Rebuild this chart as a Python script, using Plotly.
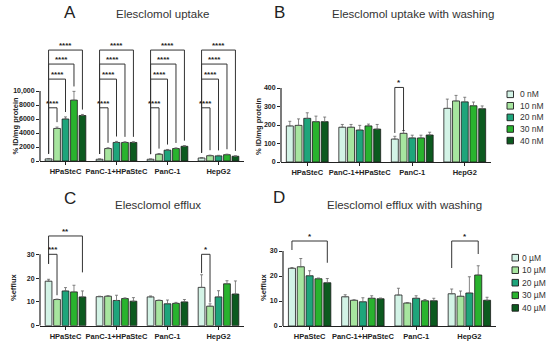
import plotly.graph_objects as go

W, H = 550, 344
FONT = "Liberation Sans, Arial, sans-serif"

groups = ["HPaSteC", "PanC-1+HPaSteC", "PanC-1", "HepG2"]
doses_nM = ["0 nM", "10 nM", "20 nM", "30 nM", "40 nM"]
doses_uM = ["0 \u00b5M", "10 \u00b5M", "20 \u00b5M", "30 \u00b5M", "40 \u00b5M"]
colors = ["#d3f3e6", "#a7e59f", "#1ea57b", "#29b32e", "#0c5a1f"]

# Panel A: Elesclomol uptake (% ID/mg protein), rows = dose, cols = group
uptake_mean = [
    [300, 250, 250, 430],
    [4650, 1780, 970, 760],
    [6000, 2650, 1550, 730],
    [8700, 2650, 1780, 900],
    [6500, 2650, 2100, 680],
]
uptake_err = [
    [60, 50, 40, 60],
    [200, 120, 100, 80],
    [300, 150, 100, 80],
    [1250, 100, 100, 80],
    [150, 100, 100, 60],
]
# Panel B: uptake with washing
uptake_wash_mean = [
    [195, 188, 124, 290],
    [198, 188, 155, 330],
    [236, 173, 130, 325],
    [218, 195, 130, 304],
    [218, 178, 146, 288],
]
uptake_wash_err = [
    [25, 15, 15, 50],
    [35, 15, 15, 30],
    [30, 25, 15, 25],
    [30, 10, 15, 20],
    [25, 25, 15, 15],
]
# Panel C: efflux (%)
efflux_mean = [
    [18.7, 12.2, 12.1, 16.1],
    [11.0, 12.4, 10.6, 8.2],
    [14.6, 10.6, 9.2, 12.1],
    [14.2, 11.4, 9.4, 17.6],
    [12.1, 10.3, 10.0, 13.3],
]
efflux_err = [
    [0.8, 0.2, 0.4, 5.3],
    [0.2, 0.2, 0.2, 1.0],
    [1.4, 2.2, 1.6, 2.6],
    [2.8, 0.3, 0.4, 1.3],
    [2.5, 1.5, 1.0, 5.5],
]
# Panel D: efflux with washing
efflux_wash_mean = [
    [23.1, 11.7, 12.4, 12.9],
    [23.7, 10.3, 9.2, 11.9],
    [20.1, 9.7, 11.1, 13.2],
    [18.9, 11.1, 10.1, 20.4],
    [17.3, 10.9, 10.1, 10.3],
]
efflux_wash_err = [
    [0.3, 0.8, 2.7, 1.9],
    [3.3, 0.2, 0.2, 2.1],
    [2.0, 1.6, 1.0, 6.5],
    [0.3, 1.0, 0.5, 3.7],
    [1.7, 0.3, 1.0, 1.2],
]

# significance brackets: (group, dose_a, dose_b, level, label, left_leg_bottom, right_leg_bottom)
sig_A = []
for g in range(4):
    sig_A += [(g, 0, 1, 7600, "****", None, None), (g, 0, 2, 11700, "****", None, None),
              (g, 0, 3, 13850, "****", None, None), (g, 0, 4, 15850, "****", None, None)]
sig_B = [(2, 0, 1, 403, "*", 157, 168)]
sig_C = [(0, 0, 1, 30, "***", 26, 12.8), (0, 0, 4, 37.7, "**", 26, 22.4), (3, 0, 1, 30, "*", 22.1, 9.8)]
sig_D = [(0, 0, 4, 34, "*", 30.4, 25.3), (3, 0, 3, 34, "*", 23.2, 28.8)]

A_ticks = [0, 2000, 4000, 6000, 8000, 10000]
A_ticktext = ["0", "2000", "4000", "6000", "8000", "10,000"]
B_ticks = [0, 100, 200, 300, 400]
CD_ticks = [0, 10, 20, 30]

BARGAP = 0.17
SLOT = (1 - BARGAP) / 5

panels = [
    dict(letter="A", title="Elesclomol uptake", ytitle="% ID/mg protein", sfx="1",
         mean=uptake_mean, err=uptake_err, sig=sig_A, gap=700,
         xdom=(40, 244), ydom=(161, 40), yrange=17286,
         ticks=A_ticks, ticktext=A_ticktext,
         letter_pos=(70, 13), title_pos=(162, 14), ytitle_pos=(14.5, 126), legend=None),
    dict(letter="B", title="Elesclomol uptake with washing", ytitle="% ID/mg protein", sfx="2",
         mean=uptake_wash_mean, err=uptake_wash_err, sig=sig_B, gap=10,
         xdom=(281, 491), ydom=(162, 40), yrange=659.5,
         ticks=B_ticks, ticktext=[str(t) for t in B_ticks],
         letter_pos=(280, 13), title_pos=(413, 14), ytitle_pos=(258, 126),
         legend=(doses_nM, 507, 518, [94.3, 105.8, 117.4, 129.0, 140.6])),
    dict(letter="C", title="Elesclomol efflux", ytitle="%efflux", sfx="3",
         mean=efflux_mean, err=efflux_err, sig=sig_C, gap=1,
         xdom=(40, 244), ydom=(325.7, 222), yrange=43.57,
         ticks=CD_ticks, ticktext=[str(t) for t in CD_ticks],
         letter_pos=(70, 198), title_pos=(158, 205), ytitle_pos=(13, 287), legend=None),
    dict(letter="D", title="Elesclomol efflux with washing", ytitle="%efflux", sfx="4",
         mean=efflux_wash_mean, err=efflux_wash_err, sig=sig_D, gap=1,
         xdom=(283, 496), ydom=(326, 222), yrange=41.6,
         ticks=CD_ticks, ticktext=[str(t) for t in CD_ticks],
         letter_pos=(279, 197), title_pos=(404, 205), ytitle_pos=(263, 287),
         legend=(doses_uM, 512, 520, [257.7, 270.2, 282.7, 295.3, 307.9])),
]

fig = go.Figure()
shapes = []
annotations = []
layout_axes = {}


def ann(x, y, text, size, color="#222", bold=False, angle=0, xanchor="center", xref="paper", yref="paper", **kw):
    d = dict(x=x, y=y, xref=xref, yref=yref, text=text, showarrow=False, textangle=angle,
             xanchor=xanchor, yanchor=kw.pop("yanchor", "middle"),
             font=dict(family=FONT, size=size, color=color, weight="bold" if bold else "normal"))
    d.update(kw)
    return d


for p in panels:
    n = p["sfx"]
    xa = "x" if n == "1" else "x" + n
    ya = "y" if n == "1" else "y" + n
    for j in range(5):
        fig.add_trace(go.Bar(
            x=list(range(len(groups))), y=p["mean"][j], name=doses_nM[j],
            xaxis=xa, yaxis=ya, showlegend=False, hoverinfo="skip",
            marker=dict(color=colors[j], line=dict(color="#1c1c1c", width=0.8)),
            error_y=dict(type="data", array=p["err"][j], arrayminus=[0] * 4, symmetric=False,
                         color="#666", thickness=0.8, width=1.5),
        ))
    xkey = "xaxis" if n == "1" else "xaxis" + n
    ykey = "yaxis" if n == "1" else "yaxis" + n
    layout_axes[xkey] = dict(
        domain=[p["xdom"][0] / W, p["xdom"][1] / W], anchor=ya, range=[-0.5, 3.5],
        tickvals=list(range(4)), ticktext=groups, ticks="outside", ticklen=3, tickwidth=1,
        tickcolor="#222", showline=True, linecolor="#222", linewidth=1.2, showgrid=False,
        zeroline=False, fixedrange=True, automargin=False, tickangle=0,
        tickfont=dict(family=FONT, size=7.5, color="#222", weight="bold"))
    layout_axes[ykey] = dict(
        domain=[1 - p["ydom"][0] / H, 1 - p["ydom"][1] / H], anchor=xa, range=[0, p["yrange"]],
        autorange=False,
        tickvals=p["ticks"], ticktext=p["ticktext"], ticks="outside", ticklen=3, tickwidth=1,
        tickcolor="#222", showline=False, showgrid=False, zeroline=False, automargin=False,
        fixedrange=True, tickfont=dict(family=FONT, size=7, color="#222", weight="bold"))
    # y axis line up to last tick
    shapes.append(dict(type="line", xref=xa + " domain", yref=ya, x0=0, x1=0,
                       y0=0, y1=p["ticks"][-1], line=dict(color="#222", width=1.2)))
    # significance brackets
    for (g, a, b, lvl, lab, lb_a, lb_b) in p["sig"]:
        xa_pos = g + (a - 2) * SLOT
        xb_pos = g + (b - 2) * SLOT
        ya0 = lb_a if lb_a is not None else p["mean"][a][g] + p["err"][a][g] + p["gap"]
        yb0 = lb_b if lb_b is not None else p["mean"][b][g] + p["err"][b][g] + p["gap"]
        shapes.append(dict(type="path", xref=xa, yref=ya,
                           path=f"M {xa_pos},{ya0} L {xa_pos},{lvl} L {xb_pos},{lvl} L {xb_pos},{yb0}",
                           line=dict(color="#333", width=1)))
        annotations.append(ann((xa_pos + xb_pos) / 2, lvl, lab, 8, bold=True, xref=xa, yref=ya,
                               yanchor="bottom", yshift=-2))
    # titles
    annotations.append(ann(p["letter_pos"][0] / W, 1 - p["letter_pos"][1] / H, p["letter"], 17))
    annotations.append(ann(p["title_pos"][0] / W, 1 - p["title_pos"][1] / H, p["title"], 11.5, color="#333"))
    annotations.append(ann(p["ytitle_pos"][0] / W, 1 - p["ytitle_pos"][1] / H, p["ytitle"], 7.5,
                           bold=True, angle=-90))
    # manual legend
    if p["legend"]:
        labels, bx, tx, ys = p["legend"]
        for j, lab in enumerate(labels):
            yc = ys[j]
            shapes.append(dict(type="rect", xref="paper", yref="paper",
                               x0=bx / W, x1=(bx + 6.5) / W,
                               y0=1 - (yc + 3.3) / H, y1=1 - (yc - 3.3) / H,
                               fillcolor=colors[j], line=dict(color="#1c1c1c", width=0.9)))
            annotations.append(ann(tx / W, 1 - yc / H, lab, 8.5, color="#333", xanchor="left"))

fig.update_layout(
    template="none",
    width=W, height=H, autosize=False, margin=dict(l=0, r=0, t=0, b=0, pad=0),
    paper_bgcolor="white", plot_bgcolor="white", barmode="group",
    bargap=BARGAP, bargroupgap=0.2, showlegend=False, hovermode=False,
    shapes=shapes, annotations=annotations, **layout_axes,
)

fig.write_html("out.html", config={"displayModeBar": False, "staticPlot": True},
               post_script="document.body.style.margin='0px';document.body.style.overflow='hidden';")
